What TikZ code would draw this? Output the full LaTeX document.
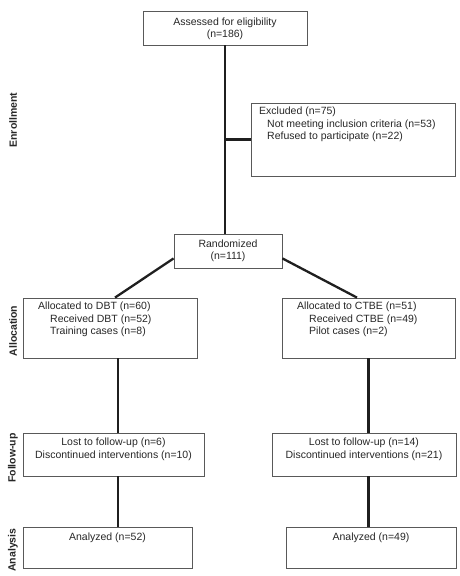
\documentclass[tikz,border=0pt]{standalone}
\usepackage{fontspec}
\setmainfont{Liberation Sans}
\begin{document}
\begin{tikzpicture}[x=1pt,y=-1pt,
  box/.style={draw=black!65, line width=0.8pt, inner sep=0pt},
  txt/.style={inner sep=0pt, font=\fontsize{10.5}{12.5}\selectfont, text=black!85},
  conn/.style={draw=black!88, line width=2.3pt},
  phase/.style={rotate=90, inner sep=0pt, font=\fontsize{10.5}{12}\selectfont\bfseries, text=black!85}]
\useasboundingbox (0,0) rectangle (460,576);
% boxes
\node[box, minimum width=164pt, minimum height=34pt] (top) at (225,28) {};
\node[box, minimum width=204pt, minimum height=73pt] (excl) at (353,139.5) {};
\node[box, minimum width=108pt, minimum height=34pt] (rand) at (228,251) {};
\node[box, minimum width=174pt, minimum height=60pt] (dbt) at (110,328) {};
\node[box, minimum width=173pt, minimum height=60pt] (ctbe) at (368.5,328) {};
\node[box, minimum width=181pt, minimum height=43pt] (fu1) at (113.5,454.5) {};
\node[box, minimum width=184pt, minimum height=43pt] (fu2) at (364,454.5) {};
\node[box, minimum width=169pt, minimum height=41pt] (an1) at (107.5,547.5) {};
\node[box, minimum width=170pt, minimum height=41pt] (an2) at (371,547.5) {};
% texts
\node[txt, align=center] (ttop) at (225,29) {Assessed for eligibility\\(n=186)};
\node[txt, align=left, anchor=north west] (texcl) at (259,107) {Excluded (n=75)\\\hspace*{8pt}Not meeting inclusion criteria (n=53)\\\hspace*{8pt}Refused to participate (n=22)};
\node[txt, align=center] (trand) at (228,251) {Randomized\\(n=111)};
\node[txt, align=left, anchor=north west] (tdbt) at (38,302) {Allocated to DBT (n=60)\\\hspace*{12pt}Received DBT (n=52)\\\hspace*{12pt}Training cases (n=8)};
\node[txt, align=left, anchor=north west] (tctbe) at (297,302) {Allocated to CTBE (n=51)\\\hspace*{12pt}Received CTBE (n=49)\\\hspace*{12pt}Pilot cases (n=2)};
\node[txt, align=center] (tfu1) at (113.5,449.5) {Lost to follow-up (n=6)\\Discontinued interventions (n=10)};
\node[txt, align=center] (tfu2) at (364,449.5) {Lost to follow-up (n=14)\\Discontinued interventions (n=21)};
\node[txt] (tan1) at (107.5,538) {Analyzed (n=52)};
\node[txt] (tan2) at (371,538) {Analyzed (n=49)};
% phase labels
\node[phase] (penr) at (13,120) {Enrollment};
\node[phase] (palloc) at (13,331) {Allocation};
\node[phase] (pfu) at (13,458) {Follow-up};
\node[phase] (pan) at (13,550) {Analysis};
% connectors
\draw[conn] (top.south) -- (top.south |- rand.north);
\draw[conn] (top.south |- excl.west) -- (excl.west);
\draw[conn] ([yshift=10pt]rand.south west) -- ([xshift=5pt]dbt.north);
\draw[conn] ([yshift=10pt]rand.south east) -- ([xshift=-11.5pt]ctbe.north);
\draw[conn] ([xshift=8pt]dbt.south) -- ([xshift=8pt]dbt.south |- fu1.north);
\draw[conn] ([xshift=4.5pt]fu1.south) -- ([xshift=4.5pt]fu1.south |- an1.north);
\draw[conn] (ctbe.south) -- (ctbe.south |- fu2.north);
\draw[conn] ([xshift=4.5pt]fu2.south) -- ([xshift=4.5pt]fu2.south |- an2.north);
\end{tikzpicture}
\end{document}
